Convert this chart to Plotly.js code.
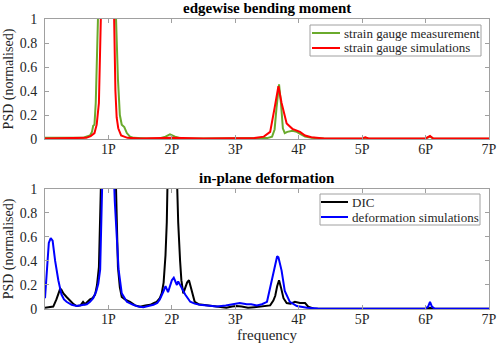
<!DOCTYPE html>
<html>
<head>
<meta charset="utf-8">
<script src="https://cdn.plot.ly/plotly-3.0.1.min.js"></script>
<style>
  html, body { margin: 0; padding: 0; background: #fff; }
  #chart { width: 500px; height: 348px; }
</style>
</head>
<body>
<div id="chart"></div>
<script>
// Frequencies are in multiples of the rotor frequency P; PSD values are normalised
// (peaks above 1 are clipped by the axis range, as in the original)

// edgewise bending moment - strain gauge measurement
const gaugeMeasX = [0, 0.3, 0.5, 0.6, 0.65, 0.71, 0.74, 0.76, 0.78, 0.8, 0.835, 0.9, 1.0, 1.08, 1.12, 1.15, 1.18, 1.21, 1.25, 1.29, 1.34, 1.4, 1.6, 1.8, 1.9, 1.97, 2.05, 2.15, 2.5, 3.0, 3.3, 3.5, 3.58, 3.62, 3.65, 3.69, 3.72, 3.75, 3.78, 3.82, 3.9, 3.97, 4.03, 4.1, 4.2, 4.4, 5.0, 5.05, 5.1, 6.0, 6.07, 6.12, 7];
const gaugeMeasY = [0.01, 0.01, 0.005, 0.01, 0.02, 0.03, 0.06, 0.11, 0.12, 0.3, 1.0, 3, 4, 3, 1.0, 0.5, 0.2, 0.12, 0.1, 0.05, 0.02, 0.01, 0.005, 0.005, 0.02, 0.04, 0.02, 0.005, 0.005, 0.008, 0.005, 0.008, 0.02, 0.08, 0.26, 0.455, 0.3, 0.09, 0.05, 0.06, 0.07, 0.06, 0.04, 0.02, 0.01, 0.005, 0.003, 0.01, 0.003, 0.005, 0.02, 0.005, 0.003];

// edgewise bending moment - strain gauge simulations
const gaugeSimX = [0, 0.5, 0.65, 0.72, 0.78, 0.815, 0.85, 0.88, 0.95, 1.0, 1.05, 1.09, 1.11, 1.13, 1.155, 1.2, 1.3, 1.5, 2.0, 2.5, 3.0, 3.3, 3.45, 3.55, 3.62, 3.68, 3.73, 3.76, 3.81, 3.9, 3.97, 4.02, 4.1, 4.2, 4.4, 5.0, 5.05, 5.1, 6.0, 6.07, 6.12, 7];
const gaugeSimY = [0.005, 0.005, 0.01, 0.025, 0.05, 0.12, 0.3, 1.0, 3, 4, 3, 1.0, 0.4, 0.18, 0.09, 0.03, 0.01, 0.005, 0.01, 0.005, 0.01, 0.008, 0.02, 0.06, 0.26, 0.44, 0.3, 0.23, 0.13, 0.085, 0.07, 0.06, 0.03, 0.015, 0.005, 0.005, 0.015, 0.005, 0.005, 0.025, 0.005, 0.005];

// in-plane deformation - DIC
const dicX = [0, 0.06, 0.13, 0.18, 0.22, 0.24, 0.26, 0.29, 0.34, 0.39, 0.45, 0.5, 0.56, 0.6, 0.63, 0.67, 0.71, 0.75, 0.79, 0.82, 0.85, 0.88, 1.0, 1.12, 1.15, 1.18, 1.21, 1.26, 1.34, 1.42, 1.5, 1.58, 1.66, 1.72, 1.76, 1.81, 1.84, 1.87, 1.9, 1.92, 1.94, 2.0, 2.08, 2.1, 2.13, 2.15, 2.18, 2.21, 2.24, 2.27, 2.31, 2.36, 2.42, 2.5, 2.6, 2.71, 2.86, 2.95, 3.02, 3.1, 3.2, 3.3, 3.39, 3.5, 3.55, 3.6, 3.63, 3.66, 3.69, 3.72, 3.76, 3.81, 3.87, 3.94, 4.02, 4.1, 4.15, 4.23, 5.0, 5.5, 6.0, 6.07, 6.12, 7];
const dicY = [0.01, 0.015, 0.02, 0.08, 0.15, 0.17, 0.16, 0.13, 0.1, 0.07, 0.04, 0.025, 0.03, 0.06, 0.04, 0.06, 0.08, 0.09, 0.12, 0.2, 0.35, 1.0, 5, 1.0, 0.35, 0.18, 0.1, 0.08, 0.06, 0.03, 0.02, 0.03, 0.035, 0.05, 0.06, 0.09, 0.13, 0.22, 0.45, 0.72, 1.1, 3, 1.1, 0.72, 0.4, 0.24, 0.13, 0.17, 0.22, 0.24, 0.15, 0.06, 0.04, 0.035, 0.025, 0.02, 0.01, 0.02, 0.025, 0.02, 0.01, 0.015, 0.02, 0.025, 0.03, 0.07, 0.11, 0.19, 0.24, 0.18, 0.09, 0.05, 0.045, 0.06, 0.05, 0.05, 0.02, 0.005, 0.003, 0.002, 0.003, 0.01, 0.003, 0.003];

// in-plane deformation - deformation simulations
const defSimX = [0, 0.03, 0.06, 0.09, 0.12, 0.16, 0.21, 0.26, 0.3, 0.34, 0.42, 0.5, 0.58, 0.66, 0.71, 0.76, 0.81, 0.84, 0.87, 0.9, 1.0, 1.08, 1.1, 1.16, 1.21, 1.29, 1.39, 1.47, 1.55, 1.63, 1.71, 1.77, 1.81, 1.87, 1.9, 1.94, 1.97, 2.0, 2.03, 2.06, 2.08, 2.1, 2.13, 2.15, 2.21, 2.29, 2.36, 2.44, 2.6, 2.71, 2.85, 2.97, 3.07, 3.18, 3.25, 3.34, 3.42, 3.5, 3.57, 3.62, 3.66, 3.68, 3.73, 3.78, 3.86, 3.97, 4.13, 4.3, 6.0, 6.04, 6.07, 6.1, 6.14, 7];
const defSimY = [0.09, 0.3, 0.55, 0.59, 0.57, 0.4, 0.24, 0.12, 0.08, 0.06, 0.035, 0.025, 0.03, 0.04, 0.06, 0.09, 0.15, 0.21, 0.33, 1.0, 5, 1.2, 0.9, 0.33, 0.13, 0.06, 0.035, 0.02, 0.015, 0.025, 0.035, 0.05, 0.08, 0.15, 0.19, 0.14, 0.2, 0.24, 0.26, 0.22, 0.2, 0.23, 0.2, 0.17, 0.12, 0.06, 0.045, 0.035, 0.025, 0.02, 0.03, 0.04, 0.05, 0.04, 0.04, 0.03, 0.04, 0.06, 0.22, 0.36, 0.44, 0.43, 0.32, 0.15, 0.06, 0.025, 0.01, 0.005, 0.003, 0.02, 0.06, 0.02, 0.003, 0.003];

const tickVals = [1, 2, 3, 4, 5, 6, 7];
const tickText = ['1P', '2P', '3P', '4P', '5P', '6P', '7P'];
const yTickVals = [0, 0.2, 0.4, 0.6, 0.8, 1];
const yTickText = ['0', '0.2', '0.4', '0.6', '0.8', '1'];

const serif = 'Liberation Serif';
const frame = '#a0a0a0';

const series = [
    { x: gaugeMeasX, y: gaugeMeasY, name: 'strain gauge measurement', color: '#6aaa2c', panel: 1 },
    { x: gaugeSimX, y: gaugeSimY, name: 'strain gauge simulations', color: '#ff0000', panel: 1 },
    { x: dicX, y: dicY, name: 'DIC', color: '#000000', panel: 2 },
    { x: defSimX, y: defSimY, name: 'deformation simulations', color: '#0000ff', panel: 2 }
];

const data = series.map(s => ({
    x: s.x, y: s.y, name: s.name,
    type: 'scatter', mode: 'lines',
    line: { color: s.color, width: 2 },
    xaxis: s.panel === 1 ? 'x' : 'x2',
    yaxis: s.panel === 1 ? 'y' : 'y2',
    showlegend: false
}));

function xAxis(anchor, withTitle) {
    const ax = {
        anchor: anchor, domain: [0, 1], range: [0, 7],
        tickvals: tickVals, ticktext: tickText,
        ticks: 'inside', ticklen: 4, tickcolor: frame,
        showline: true, linecolor: frame, linewidth: 1, mirror: 'ticks',
        showgrid: false, zeroline: false,
        ticklabelstandoff: -3,
        tickfont: { family: serif, size: 14, color: '#262626' }
    };
    if (withTitle) {
        ax.title = { text: 'frequency', font: { family: serif, size: 15, color: '#262626' }, standoff: 3 };
    }
    return ax;
}

function yAxis(anchor, domain) {
    return {
        anchor: anchor, domain: domain, range: [0, 1],
        tickvals: yTickVals, ticktext: yTickText,
        ticks: 'inside', ticklen: 4, tickcolor: frame,
        showline: true, linecolor: frame, linewidth: 1, mirror: 'ticks',
        showgrid: false, zeroline: false,
        ticklabelstandoff: 4,
        tickfont: { family: serif, size: 14, color: '#262626' },
        title: { text: 'PSD (normalised)', font: { family: serif, size: 14, color: '#262626' }, standoff: 2 }
    };
}

// plot area spans pixels x 45..489, y 19..309 (paper coords)
const px = v => (v - 45) / 444;
const py = v => (309 - v) / 290;

// boxed legends in the MATLAB style, drawn as shapes and text
const legends = [
    { box: [310, 25, 481, 56], rows: [33, 48], line: [312, 340], textX: 343, items: [series[0], series[1]] },
    { box: [320, 194, 480, 225], rows: [202, 217], line: [321, 348], textX: 351, items: [series[2], series[3]] }
];

const shapes = [];
const annotations = [
    { text: '<b>edgewise bending moment</b>', xref: 'paper', yref: 'paper', x: 0.5, y: 1, yanchor: 'bottom', yshift: 1, showarrow: false, font: { family: serif, size: 15, color: '#000' } },
    { text: '<b>in-plane deformation</b>', xref: 'paper', yref: 'paper', x: 0.5, y: 0.414, yanchor: 'bottom', yshift: 1, showarrow: false, font: { family: serif, size: 15, color: '#000' } }
];

legends.forEach(lg => {
    shapes.push({
        type: 'rect', xref: 'paper', yref: 'paper',
        x0: px(lg.box[0]), x1: px(lg.box[2]), y0: py(lg.box[3]), y1: py(lg.box[1]),
        line: { color: frame, width: 1 }, fillcolor: '#ffffff', layer: 'above'
    });
    lg.items.forEach((s, i) => {
        shapes.push({
            type: 'line', xref: 'paper', yref: 'paper',
            x0: px(lg.line[0]), x1: px(lg.line[1]), y0: py(lg.rows[i]), y1: py(lg.rows[i]),
            line: { color: s.color, width: 2 }, layer: 'above'
        });
        annotations.push({
            text: s.name, xref: 'paper', yref: 'paper',
            x: px(lg.textX), y: py(lg.rows[i]), xanchor: 'left', yanchor: 'middle',
            borderpad: 0, showarrow: false, font: { family: serif, size: 13, color: '#262626' }
        });
    });
});

const layout = {
    width: 500, height: 348,
    margin: { l: 45, r: 11, t: 19, b: 39 },
    paper_bgcolor: '#ffffff', plot_bgcolor: '#ffffff',
    showlegend: false,
    xaxis: xAxis('y', false),
    yaxis: yAxis('x', [0.586, 1]),
    xaxis2: xAxis('y2', true),
    yaxis2: yAxis('x2', [0, 0.414]),
    shapes: shapes,
    annotations: annotations
};

Plotly.newPlot('chart', data, layout, { staticPlot: true });
</script>
</body>
</html>
